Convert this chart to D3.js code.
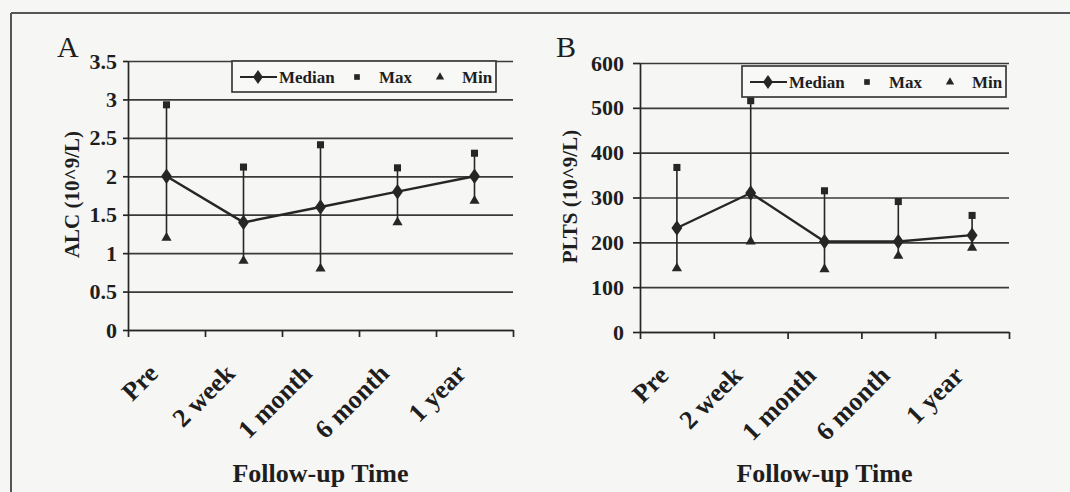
<!DOCTYPE html>
<html>
<head>
<meta charset="utf-8">
<script src="https://cdn.jsdelivr.net/npm/d3@7"></script>
<style>
  body { margin: 0; background: #f6f6f4; }
  svg text { font-family: "Liberation Serif", "Times New Roman", serif; fill: #1e1e1e; }
</style>
</head>
<body>
<div id="chart"></div>
<script>
var categories = ["Pre", "2 week", "1 month", "6 month", "1 year"];

// panel A: absolute lymphocyte count
var alcMedian = [2.0, 1.4, 1.6, 1.8, 2.0];
var alcMax = [2.93, 2.12, 2.41, 2.11, 2.3];
var alcMin = [1.2, 0.9, 0.8, 1.4, 1.68];
var alcTicks = [0, 0.5, 1, 1.5, 2, 2.5, 3, 3.5];

// panel B: platelets
var pltMedian = [232, 310, 202, 202, 216];
var pltMax = [367, 516, 315, 291, 260];
var pltMin = [142, 202, 140, 170, 188];
var pltTicks = [0, 100, 200, 300, 400, 500, 600];

var svg = d3.select("#chart")
  .append("svg")
  .attr("width", 1070)
  .attr("height", 492);

var ink = "#262626";

// scanned frame (top and left only)
svg.append("line").attr("x1", 11).attr("x2", 1070).attr("y1", 13).attr("y2", 13)
  .attr("stroke", "#555").attr("stroke-width", 2);
svg.append("line").attr("x1", 11).attr("x2", 11).attr("y1", 13).attr("y2", 492)
  .attr("stroke", "#555").attr("stroke-width", 2);

function drawPanel(p) {
  var g = svg.append("g");

  var x = d3.scaleBand().domain(categories).range([p.x0, p.x1]).padding(0);
  var xEdges = d3.scaleLinear().domain([0, categories.length]).range([p.x0, p.x1]);
  var y = d3.scaleLinear().domain([0, p.ticks[p.ticks.length - 1]]).range([p.yBot, p.yTop]);
  var cx = function(i) { return x(categories[i]) + x.bandwidth() / 2; };

  // gridlines
  g.append("g")
    .attr("transform", "translate(" + p.x0 + ",0)")
    .call(d3.axisLeft(y).tickValues(p.ticks).tickSize(-(p.x1 - p.x0)).tickFormat(""))
    .call(function(s) {
      s.select(".domain").remove();
      s.selectAll("line").attr("stroke", "#3a3a3a").attr("stroke-width", 1.7);
    });

  // y axis
  g.append("g")
    .attr("transform", "translate(" + p.x0 + ",0)")
    .call(d3.axisLeft(y).tickValues(p.ticks).tickSize(p.tickLen).tickPadding(p.pad)
      .tickSizeOuter(0).tickFormat(d3.format("~g")))
    .call(function(s) {
      s.select(".domain").attr("stroke", ink).attr("stroke-width", 1.7);
      s.selectAll("line").attr("stroke", ink).attr("stroke-width", 1.7);
      s.selectAll("text").attr("font-size", 22).attr("font-weight", "bold").attr("fill", "#1e1e1e")
        .style("font-family", "Liberation Serif");
    });

  // x axis (ticks between categories)
  g.append("g")
    .attr("transform", "translate(0," + p.yBot + ")")
    .call(d3.axisBottom(xEdges).tickValues(d3.range(categories.length + 1)).tickSize(7).tickFormat("").tickSizeOuter(0))
    .call(function(s) {
      s.select(".domain").attr("stroke", ink).attr("stroke-width", 1.7);
      s.selectAll("line").attr("stroke", ink).attr("stroke-width", 1.7);
    });

  g.selectAll(".xl")
    .data(categories)
    .enter()
    .append("text")
    .attr("font-size", 26)
    .attr("font-weight", "bold")
    .attr("text-anchor", "end")
    .attr("transform", function(d, i) {
      return "translate(" + (cx(i) - 7) + "," + (p.yBot + 45) + ") rotate(-45)";
    })
    .text(function(d) { return d; });

  // error bars
  g.selectAll(".bar")
    .data(categories)
    .enter()
    .append("line")
    .attr("x1", function(d, i) { return cx(i); })
    .attr("x2", function(d, i) { return cx(i); })
    .attr("y1", function(d, i) { return y(p.max[i]); })
    .attr("y2", function(d, i) { return y(p.min[i]); })
    .attr("stroke", ink)
    .attr("stroke-width", 1.6);

  // median line
  g.append("path")
    .datum(p.median)
    .attr("fill", "none")
    .attr("stroke", ink)
    .attr("stroke-width", 2.4)
    .attr("d", d3.line().x(function(d, i) { return cx(i); }).y(function(d) { return y(d); }));

  g.selectAll(".med")
    .data(p.median)
    .enter()
    .append("path")
    .attr("d", d3.symbol(d3.symbolDiamond, 85))
    .attr("transform", function(d, i) { return "translate(" + cx(i) + "," + y(d) + ") scale(1.1,0.9)"; })
    .attr("fill", ink);

  g.selectAll(".mx")
    .data(p.max)
    .enter()
    .append("path")
    .attr("d", d3.symbol(d3.symbolSquare, 50))
    .attr("transform", function(d, i) { return "translate(" + cx(i) + "," + y(d) + ")"; })
    .attr("fill", ink);

  g.selectAll(".mn")
    .data(p.min)
    .enter()
    .append("path")
    .attr("d", d3.symbol(d3.symbolTriangle, 45))
    .attr("transform", function(d, i) { return "translate(" + cx(i) + "," + y(d) + ")"; })
    .attr("fill", ink);

  // legend
  var lg = g.append("g").attr("transform", "translate(" + p.lx + "," + p.ly + ")");
  lg.append("rect").attr("width", 264).attr("height", 31)
    .attr("fill", "#f8f8f6").attr("stroke", "#3a3a3a").attr("stroke-width", 1.7);
  lg.append("line").attr("x1", 8).attr("x2", 45).attr("y1", 16).attr("y2", 16)
    .attr("stroke", ink).attr("stroke-width", 2.2);
  lg.append("path").attr("d", d3.symbol(d3.symbolDiamond, 70))
    .attr("transform", "translate(26,16) scale(1.1,0.9)").attr("fill", ink);
  lg.append("path").attr("d", d3.symbol(d3.symbolSquare, 32))
    .attr("transform", "translate(125,16)").attr("fill", ink);
  lg.append("path").attr("d", d3.symbol(d3.symbolTriangle, 30))
    .attr("transform", "translate(208,16)").attr("fill", ink);
  var names = ["Median", "Max", "Min"];
  var nx = [47, 147, 230];
  lg.selectAll(".ln")
    .data(names)
    .enter()
    .append("text")
    .attr("x", function(d, i) { return nx[i]; })
    .attr("y", 22)
    .attr("font-size", 17)
    .attr("font-weight", "bold")
    .text(function(d) { return d; });

  // titles
  g.append("text")
    .attr("transform", "translate(" + p.tx + "," + ((p.yTop + p.yBot) / 2 - 1) + ") rotate(-90)")
    .attr("text-anchor", "middle")
    .attr("font-size", 21)
    .attr("font-weight", "bold")
    .text(p.yTitle);

  g.append("text")
    .attr("x", (p.x0 + p.x1) / 2)
    .attr("y", 482)
    .attr("text-anchor", "middle")
    .attr("font-size", 26)
    .attr("font-weight", "bold")
    .text("Follow-up Time");

  g.append("text")
    .attr("x", p.letterX)
    .attr("y", 57)
    .attr("font-size", 30)
    .text(p.letter);
}

drawPanel({
  x0: 128, x1: 513, yTop: 61, yBot: 330,
  ticks: alcTicks, median: alcMedian, max: alcMax, min: alcMin,
  tickLen: 5, pad: 6, lx: 232, ly: 61, tx: 79,
  yTitle: "ALC (10^9/L)", letter: "A", letterX: 57
});

drawPanel({
  x0: 640, x1: 1009, yTop: 63, yBot: 332,
  ticks: pltTicks, median: pltMedian, max: pltMax, min: pltMin,
  tickLen: 7, pad: 9, lx: 742, ly: 66, tx: 577,
  yTitle: "PLTS (10^9/L)", letter: "B", letterX: 556
});
</script>
</body>
</html>
